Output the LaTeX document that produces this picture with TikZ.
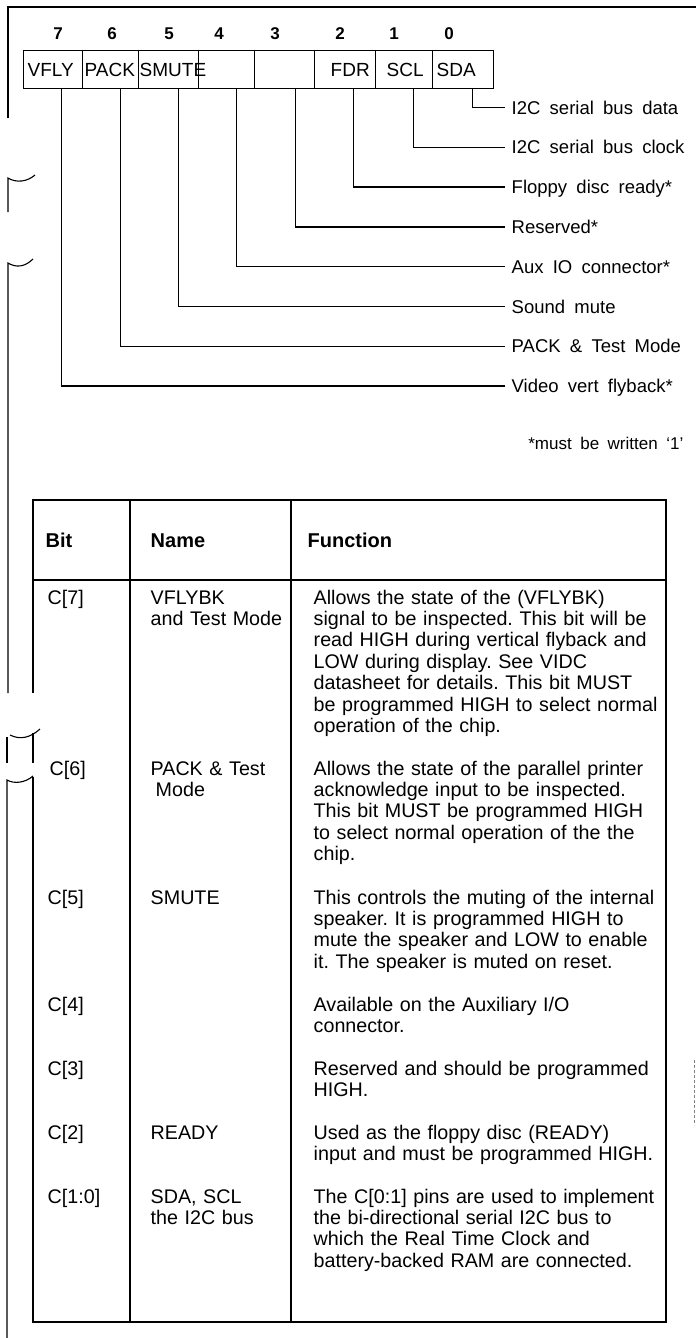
\documentclass[tikz,border=0pt]{standalone}
\usepackage{fontspec}
\setmainfont{Liberation Sans}
\frenchspacing
\newcommand\widespaces{\spaceskip=0.5em plus 0.1em\relax}
\begin{document}
\begin{tikzpicture}[x=1pt,y=-1pt,line width=1.4pt,
  cell/.style={draw,rectangle,inner sep=0pt,minimum height=38pt,anchor=north west},
  celltext/.style={anchor=base west,inner sep=0pt,font=\fontsize{19}{20}\selectfont},
  bitnum/.style={anchor=base,inner sep=0pt,font=\bfseries\fontsize{17}{18}\selectfont},
  lab/.style={anchor=west,inner xsep=6pt,inner ysep=0pt,text height=13pt,text depth=0pt,font=\fontsize{18.5}{20}\selectfont,execute at begin node=\widespaces},
  hdr/.style={anchor=base west,inner sep=0pt,font=\bfseries\fontsize{20}{22}\selectfont},
  body/.style={anchor=base west,inner sep=0pt,align=left,text width=#1,font=\fontsize{19.7}{21.4}\selectfont},
  body/.default=360pt,
  scan/.style={line width=1.1pt},
]
\useasboundingbox (0,0) rectangle (696,1338);

% frame and scan artefacts
\draw (8,118) -- (8,7) -- (696,7);
\draw[scan] (8,212) -- (8,178) .. controls (16,183) and (27,182) .. (35,175);
\draw[scan] (8,693) -- (8,263) .. controls (16,268) and (25,267) .. (33,259);
\draw[scan] (10,735) .. controls (20,740) and (30,738) .. (40,729);
\draw[scan] (7,737) -- (7,763);
\draw[scan] (7,1338) -- (7,780) .. controls (14,784) and (25,783) .. (33,776);
\draw[densely dashed, line width=0.6pt, gray] (694,1060) -- (694,1125);

% register
\node[cell,minimum width=59pt] (c7) at (23,50) {};
\node[cell,minimum width=56pt] (c6) at (82,50) {};
\node[cell,minimum width=60pt] (c5) at (138,50) {};
\node[cell,minimum width=56pt] (c4) at (198,50) {};
\node[cell,minimum width=60pt] (c3) at (254,50) {};
\node[cell,minimum width=61pt] (c2) at (314,50) {};
\node[cell,minimum width=57pt] (c1) at (375,50) {};
\node[cell,minimum width=61pt] (c0) at (432,50) {};

\node[celltext] (t7) at (27,76) {VFLY};
\node[celltext] (t6) at (84,76) {PACK};
\node[celltext] (t5) at (139,76) {SMUTE};
\node[celltext] (t2) at (330,76) {FDR};
\node[celltext] (t1) at (386,76) {SCL};
\node[celltext] (t0) at (436,76) {SDA};

\node[bitnum] (n7) at (58,40) {7};
\node[bitnum] (n6) at (112,40) {6};
\node[bitnum] (n5) at (169,40) {5};
\node[bitnum] (n4) at (219,40) {4};
\node[bitnum] (n3) at (275,40) {3};
\node[bitnum] (n2) at (340,40) {2};
\node[bitnum] (n1) at (394,40) {1};
\node[bitnum] (n0) at (449,40) {0};

% labels
\node[lab] (l0) at (505,107.5) {I2C serial bus data};
\node[lab] (l1) at (505,147.3) {I2C serial bus clock};
\node[lab] (l2) at (505,187.1) {Floppy disc ready*};
\node[lab] (l3) at (505,226.9) {Reserved*};
\node[lab] (l4) at (505,266.7) {Aux IO connector*};
\node[lab] (l5) at (505,306.5) {Sound mute};
\node[lab] (l6) at (505,346.3) {PACK \& Test Mode};
\node[lab] (l7) at (505,386.1) {Video vert flyback*};

\draw ([xshift=9.5pt]c0.south) |- (l0.west);
\draw ([xshift=9.5pt]c1.south) |- (l1.west);
\draw ([xshift=8.5pt]c2.south) |- (l2.west);
\draw ([xshift=11pt]c3.south) |- (l3.west);
\draw ([xshift=10pt]c4.south) |- (l4.west);
\draw ([xshift=10pt]c5.south) |- (l5.west);
\draw ([xshift=10pt]c6.south) |- (l6.west);
\draw ([xshift=8.5pt]c7.south) |- (l7.west);

\node[anchor=base east,inner sep=0pt,font=\fontsize{17}{20}\selectfont,execute at begin node=\widespaces] (fn) at (684,449) {*must be written ‘1’};

% table
\draw (33,693) -- (33,500) -- (666,500) -- (666,1322) -- (33,1322) -- (33,777);
\draw (33,733) -- (33,763);
\draw (33,580) -- (666,580);
\draw (130,500) -- (130,1322);
\draw (291,500) -- (291,1322);

\node[hdr] (hb) at (45,547) {Bit};
\node[hdr] (hn) at (150,547) {Name};
\node[hdr] (hf) at (307,547) {Function};

\node[body=80pt] (b7) at (47,604) {C[7]};
\node[body=150pt] (m7) at (150,604) {VFLYBK\\and Test Mode};
\node[body] (f7) at (313,604) {Allows the state of the (VFLYBK)\\signal to be inspected. This bit will be\\read HIGH during vertical flyback and\\LOW during display. See VIDC\\datasheet for details. This bit MUST\\be programmed HIGH to select normal\\operation of the chip.};

\node[body=80pt] (b6) at (49,775) {C[6]};
\node[body=150pt] (m6) at (150,775) {PACK \& Test\\\hspace*{5pt}Mode};
\node[body] (f6) at (313,775) {Allows the state of the parallel printer\\acknowledge input to be inspected.\\This bit MUST be programmed HIGH\\to select normal operation of the the\\chip.};

\node[body=80pt] (b5) at (47,904) {C[5]};
\node[body=150pt] (m5) at (150,904) {SMUTE};
\node[body] (f5) at (313,904) {This controls the muting of the internal\\speaker. It is programmed HIGH to\\mute the speaker and LOW to enable\\it. The speaker is muted on reset.};

\node[body=80pt] (b4) at (47,1011) {C[4]};
\node[body] (f4) at (313,1011) {Available on the Auxiliary I/O\\connector.};

\node[body=80pt] (b3) at (47,1075) {C[3]};
\node[body] (f3) at (313,1075) {Reserved and should be programmed\\HIGH.};

\node[body=80pt] (b2) at (47,1139) {C[2]};
\node[body=150pt] (m2) at (150,1139) {READY};
\node[body] (f2) at (313,1139) {Used as the floppy disc (READY)\\input and must be programmed HIGH.};

\node[body=80pt] (b1) at (47,1203) {C[1:0]};
\node[body=150pt] (m1) at (150,1203) {SDA, SCL\\the I2C bus};
\node[body] (f1) at (313,1203) {The C[0:1] pins are used to implement\\the bi-directional serial I2C bus to\\which the Real Time Clock and\\battery-backed RAM are connected.};
\end{tikzpicture}
\end{document}
